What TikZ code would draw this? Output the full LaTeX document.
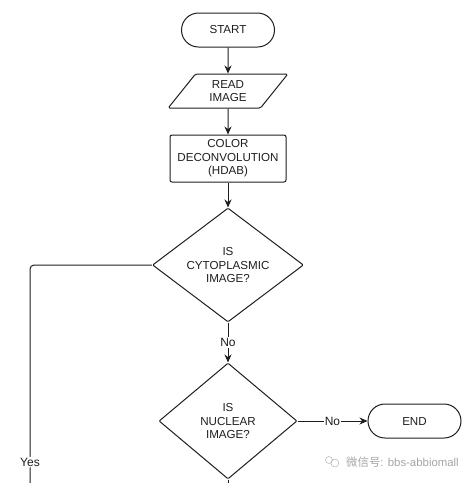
\documentclass[tikz,border=0pt]{standalone}
\usepackage{fontspec}
\setmainfont{Liberation Sans}
\newfontfamily\cjkfont{Noto Sans CJK SC}
\usetikzlibrary{arrows.meta,positioning,calc,shapes.geometric}
\definecolor{inkline}{RGB}{30,30,30}
\definecolor{markgray}{RGB}{165,165,165}
\tikzset{
  box/.style={draw=inkline,line width=1pt,align=center,font=\fontsize{11.6}{13.5}\selectfont,text=inkline,inner sep=0pt},
  terminal/.style={box,rounded corners=17pt,minimum width=93pt,minimum height=34pt},
  inputbox/.style={box,trapezium,trapezium left angle=54,trapezium right angle=126,trapezium stretches=true,rounded corners=1.5pt,minimum width=120pt,minimum height=34pt},
  process/.style={box,rounded corners=2pt,minimum width=116pt,minimum height=47pt},
  decision/.style={box,diamond,shape aspect=1.3,rounded corners=1pt},
  flow/.style={draw=inkline,line width=1pt,-{Stealth[length=8pt,width=7pt]}},
  plainflow/.style={draw=inkline,line width=1pt},
  flowlabel/.style={fill=white,font=\fontsize{12}{13.5}\selectfont,text=inkline,inner sep=1pt}
}
\begin{document}
\begin{tikzpicture}[node distance=26pt]
\useasboundingbox (0,0) rectangle (473pt,-483pt);
\node[terminal] (start) at (228pt,-30pt) {START};
\node[inputbox,below=of start] (read) {READ\\IMAGE};
\node[process,below=of read] (color) {COLOR\\DECONVOLUTION\\(HDAB)};
\node[decision,minimum width=151pt,minimum height=114pt,below=25pt of color] (cyto) {IS\\CYTOPLASMIC\\IMAGE?};
\node[decision,minimum width=138pt,minimum height=116pt,below=40pt of cyto] (nuclear) {IS\\NUCLEAR\\IMAGE?};
\node[terminal,right=70pt of nuclear] (end) {END};
\coordinate (yesend) at (30pt,-483pt);
\coordinate (nuclearout) at (228pt,-483pt);
% watermark in the lower right corner
\node[font=\fontsize{11.4}{12}\selectfont,text=markgray,inner sep=0pt,anchor=east] (mark) at (459pt,-462pt) {{\cjkfont 微信号}: bbs-abbiomall};
\node[draw=markgray,circle,minimum size=8pt,inner sep=0pt,left=7pt of mark,yshift=-1pt] (markb) {};
\node[draw=markgray,circle,minimum size=7pt,inner sep=0pt,left=-2pt of markb,yshift=3pt] (marka) {};
\draw[flow] (start) -- (read);
\draw[flow] (read) -- (color);
\draw[flow] (color) -- (cyto);
\draw[flow] (cyto) -- node[flowlabel] {No} (nuclear);
\draw[flow] (nuclear) -- node[flowlabel] {No} (end);
\draw[plainflow,rounded corners=4pt] (cyto.west) -| node[flowlabel,pos=.952] {Yes} (yesend);
\draw[plainflow] (nuclear.south) -- (nuclearout);
\end{tikzpicture}
\end{document}
